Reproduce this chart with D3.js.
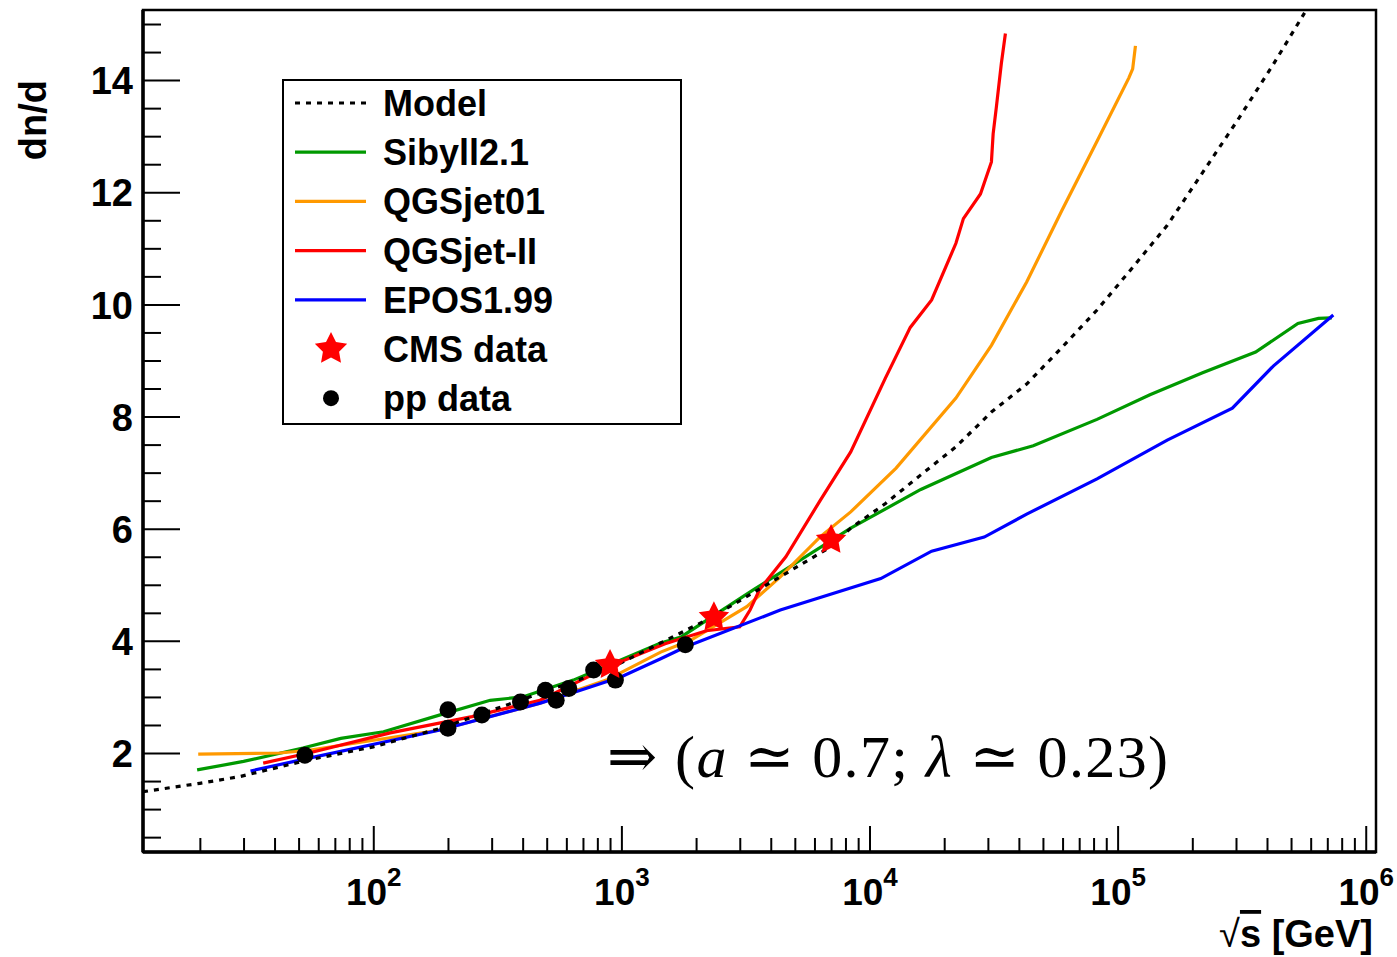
<!DOCTYPE html>
<html>
<head>
<meta charset="UTF-8">
<title>dn/d vs sqrt(s)</title>
<script src="https://d3js.org/d3.v7.min.js"></script>
<style>
  body { margin: 0; background: #fff; }
  svg text { font-family: "Liberation Sans", Arial, sans-serif; font-weight: bold; fill: #000; }
  .tex { font-family: "Liberation Serif", "DejaVu Serif", serif; font-weight: normal; }
</style>
</head>
<body>
<svg id="chart" width="1397" height="957"></svg>
<script>
// ---- data (sqrt(s) in GeV, dn/d) ----
var modelE = [11.8, 20, 29, 54, 100, 186, 871, 2290, 7000, 8400, 11600, 16100, 22300, 31000, 43000, 59000, 82600, 114500, 158500, 220000, 305000, 420000, 567000];
var modelN = [1.31, 1.46, 1.58, 1.87, 2.11, 2.44, 3.48, 4.41, 5.68, 6.01, 6.45, 6.96, 7.46, 8.08, 8.58, 9.21, 9.90, 10.65, 11.41, 12.35, 13.29, 14.25, 15.2];

var sibyllE = [19.5, 30, 52, 74, 110, 186, 296, 400, 640, 1440, 1740, 3400, 8400, 16100, 31000, 45700, 82600, 135000, 220000, 360000, 533000, 645000, 730000];
var sibyllN = [1.70, 1.85, 2.09, 2.26, 2.38, 2.68, 2.94, 3.00, 3.30, 3.96, 4.07, 4.91, 6.01, 6.70, 7.27, 7.48, 7.95, 8.39, 8.78, 9.15, 9.66, 9.75, 9.76];

var qgs01E = [19.7, 42, 55, 186, 470, 870, 1440, 1900, 3200, 4370, 6340, 8400, 12800, 22300, 31000, 43000, 59400, 82600, 111000, 115000, 118000];
var qgs01N = [1.98, 2.0, 2.05, 2.41, 2.89, 3.30, 3.80, 4.01, 4.61, 5.14, 5.86, 6.30, 7.08, 8.33, 9.27, 10.40, 11.66, 12.91, 14.04, 14.20, 14.61];

var qgs2E = [36, 55, 117, 250, 470, 900, 1500, 2200, 3000, 3300, 3600, 4600, 6340, 8400, 11600, 14600, 17800, 22300, 23900, 28000, 31000, 31500, 32500, 34000, 35300];
var qgs2N = [1.82, 2.0, 2.36, 2.65, 2.94, 3.55, 3.95, 4.18, 4.25, 4.55, 4.91, 5.50, 6.51, 7.37, 8.69, 9.59, 10.08, 11.09, 11.53, 11.97, 12.54, 13.04, 13.54, 14.30, 14.83];

var eposE = [32, 54, 186, 471, 684, 1000, 1440, 1810, 4370, 11100, 17800, 29000, 43000, 82600, 158500, 290000, 424000, 740000];
var eposN = [1.68, 1.90, 2.41, 2.89, 3.12, 3.36, 3.68, 3.89, 4.55, 5.11, 5.60, 5.85, 6.26, 6.89, 7.58, 8.15, 8.90, 9.81];

var cmsE = [900, 2360, 7000];
var cmsN = [3.57, 4.42, 5.80];

var ppE = [53, 200, 200, 274, 392, 494, 546, 614, 773, 946, 1810];
var ppN = [1.96, 2.77, 2.44, 2.68, 2.91, 3.12, 2.94, 3.15, 3.48, 3.30, 3.93];

var yMajor = [2, 4, 6, 8, 10, 12, 14];
var xMajor = [1e2, 1e3, 1e4, 1e5, 1e6];

// ---- layout ----
var svg = d3.select("#chart");
var L = 143, R = 1376, T = 10, B = 852;

var x = d3.scaleLog().domain([11.8, 1.1e6]).range([L, R]);
var y = d3.scaleLinear().domain([0.235, 15.25]).range([B, T]);

svg.append("defs").append("clipPath").attr("id", "plotclip")
  .append("rect").attr("x", L).attr("y", T).attr("width", R - L).attr("height", B - T);

// minor tick values
var yMinor = d3.range(0.5, 15.01, 0.5).filter(function(v) { return v % 2 !== 0; });
var xMinor = [];
[1, 2, 3, 4, 5].forEach(function(p) {
  for (var m = 2; m <= 9; m++) {
    var v = m * Math.pow(10, p);
    if (v > x.domain()[0] && v < x.domain()[1]) xMinor.push(v);
  }
});

// y axis
var gy = svg.append("g").attr("transform", "translate(" + L + ",0)");
gy.call(d3.axisLeft(y).tickValues(yMinor).tickSizeInner(-18).tickSizeOuter(0).tickFormat(""));
gy.append("g").call(d3.axisLeft(y).tickValues(yMajor).tickSizeInner(-37).tickSizeOuter(0).tickPadding(10).tickFormat(d3.format("d")));
gy.selectAll("path.domain").remove();
gy.selectAll("line").attr("stroke", "#000").attr("stroke-width", 2);
gy.selectAll("text").style("font-size", "38px").attr("dy", "0.36em");

// x axis
var gx = svg.append("g").attr("transform", "translate(0," + B + ")");
gx.call(d3.axisBottom(x).tickValues(xMinor).tickSizeInner(-14).tickSizeOuter(0).tickFormat(""));
var gxm = gx.append("g").call(d3.axisBottom(x).tickValues(xMajor).tickSizeInner(-26).tickSizeOuter(0).tickFormat(""));
gx.selectAll("path.domain").remove();
gx.selectAll("line").attr("stroke", "#000").attr("stroke-width", 2);
gxm.selectAll(".tick").append("text")
  .attr("y", 53).attr("text-anchor", "middle")
  .style("font-size", "37px")
  .each(function(d) {
    var t = d3.select(this);
    t.append("tspan").text("10");
    t.append("tspan").attr("dy", -19).style("font-size", "26px").text(Math.round(Math.log10(d)));
  });

// frame
svg.append("rect").attr("x", L).attr("y", T).attr("width", R - L).attr("height", B - T)
  .attr("fill", "none").attr("stroke", "#000").attr("stroke-width", 2.5);
svg.append("line").attr("x1", L).attr("x2", L).attr("y1", T).attr("y2", B).attr("stroke", "#000").attr("stroke-width", 3.5);
svg.append("line").attr("x1", L).attr("x2", R).attr("y1", B).attr("y2", B).attr("stroke", "#000").attr("stroke-width", 3.5);

// axis titles
svg.append("text").attr("transform", "translate(46,80) rotate(-90)")
  .attr("text-anchor", "end").style("font-size", "38px").text("dn/d");

var xt = svg.append("text").attr("x", 1373).attr("y", 947).attr("text-anchor", "end").style("font-size", "38px");
xt.append("tspan").style("font-weight", "normal").text("\u221A");
xt.append("tspan").style("text-decoration", "overline").text("s");
xt.append("tspan").text(" [GeV]");

// curves
var plot = svg.append("g").attr("clip-path", "url(#plotclip)");
var line = d3.line().x(function(d) { return x(d[0]); }).y(function(d) { return y(d[1]); });

var curves = [
  { E: sibyllE, N: sibyllN, color: "#009900", dash: null },
  { E: qgs01E, N: qgs01N, color: "#ff9900", dash: null },
  { E: qgs2E, N: qgs2N, color: "#ff0000", dash: null },
  { E: eposE, N: eposN, color: "#0000ff", dash: null },
  { E: modelE, N: modelN, color: "#000", dash: "5,6" }
];
curves.forEach(function(c) {
  plot.append("path")
    .datum(d3.zip(c.E, c.N))
    .attr("d", line)
    .attr("fill", "none")
    .attr("stroke", c.color)
    .attr("stroke-width", 3.2)
    .attr("stroke-dasharray", c.dash);
});

// star symbol (fat 5-point)
var fatStar = {
  draw: function(ctx, size) {
    var r = Math.sqrt(size), ri = r * 0.5;
    for (var i = 0; i < 10; i++) {
      var a = -Math.PI / 2 + i * Math.PI / 5, rr = (i % 2 === 0) ? r : ri;
      if (i === 0) ctx.moveTo(rr * Math.cos(a), rr * Math.sin(a));
      else ctx.lineTo(rr * Math.cos(a), rr * Math.sin(a));
    }
    ctx.closePath();
  }
};

// pp data
plot.selectAll("circle.pp").data(d3.zip(ppE, ppN)).enter().append("circle")
  .attr("class", "pp")
  .attr("cx", function(d) { return x(d[0]); })
  .attr("cy", function(d) { return y(d[1]); })
  .attr("r", 8.5).attr("fill", "#000");

// CMS data
plot.selectAll("path.cms").data(d3.zip(cmsE, cmsN)).enter().append("path")
  .attr("class", "cms")
  .attr("transform", function(d) { return "translate(" + x(d[0]) + "," + y(d[1]) + ")"; })
  .attr("d", d3.symbol().type(fatStar).size(256))
  .attr("fill", "#ff0000");

// legend
var lg = svg.append("g");
lg.append("rect").attr("x", 283).attr("y", 80).attr("width", 398).attr("height", 344)
  .attr("fill", "#fff").attr("stroke", "#000").attr("stroke-width", 2);
var entries = [
  { name: "Model", kind: "line", color: "#000", dash: "5,6" },
  { name: "Sibyll2.1", kind: "line", color: "#009900" },
  { name: "QGSjet01", kind: "line", color: "#ff9900" },
  { name: "QGSjet-II", kind: "line", color: "#ff0000" },
  { name: "EPOS1.99", kind: "line", color: "#0000ff" },
  { name: "CMS data", kind: "star", color: "#ff0000" },
  { name: "pp data", kind: "dot", color: "#000" }
];
var le = lg.selectAll("g.entry").data(entries).enter().append("g")
  .attr("class", "entry")
  .attr("transform", function(d, i) { return "translate(0," + (103 + i * 49.2) + ")"; });
le.filter(function(d) { return d.kind === "line"; }).append("line")
  .attr("x1", 295).attr("x2", 366).attr("y1", 0).attr("y2", 0)
  .attr("stroke", function(d) { return d.color; })
  .attr("stroke-width", 3.2)
  .attr("stroke-dasharray", function(d) { return d.dash || null; });
le.filter(function(d) { return d.kind === "star"; }).append("path")
  .attr("transform", "translate(331,0)")
  .attr("d", d3.symbol().type(fatStar).size(289))
  .attr("fill", function(d) { return d.color; });
le.filter(function(d) { return d.kind === "dot"; }).append("circle")
  .attr("cx", 331).attr("cy", 0).attr("r", 8).attr("fill", function(d) { return d.color; });
le.append("text").attr("x", 383).attr("y", 13).style("font-size", "36px").text(function(d) { return d.name; });

// annotation
var an = svg.append("text").attr("class", "tex").attr("x", 607).attr("y", 777)
  .style("font-size", "60px").attr("textLength", 561).attr("lengthAdjust", "spacing");
an.append("tspan").text("\u21D2 (");
an.append("tspan").style("font-style", "italic").text("a");
an.append("tspan").text(" \u2243 0.7; ");
an.append("tspan").style("font-style", "italic").text("\u03BB");
an.append("tspan").text(" \u2243 0.23)");
</script>
</body>
</html>
